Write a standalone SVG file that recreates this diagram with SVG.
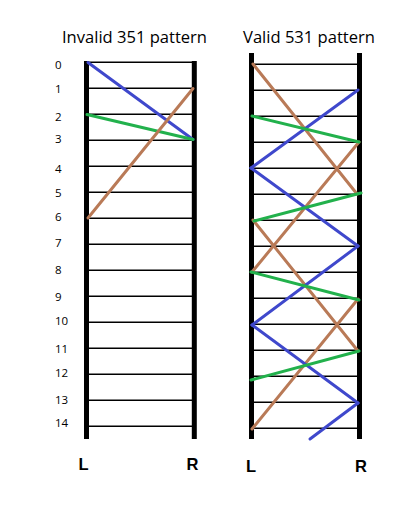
<svg xmlns="http://www.w3.org/2000/svg" width="418" height="512" viewBox="0 0 418 512">
<style>
.rail{stroke:#000;stroke-width:5;fill:none}
.rung{stroke:#000;stroke-width:1.4;fill:none}
.blue{stroke:#3F48CC;stroke-width:3;fill:none;stroke-linecap:round}
.brown{stroke:#B97A57;stroke-width:3;fill:none;stroke-linecap:round}
.green{stroke:#22B14C;stroke-width:3;fill:none;stroke-linecap:round}
.title{font-family:"Open Sans","Liberation Sans",sans-serif;font-size:16px;fill:#000}
.num{font-family:"Open Sans","Liberation Sans",sans-serif;font-size:11.5px;fill:#000}
.lr{font-family:"Liberation Sans",Arial,sans-serif;font-size:16.5px;font-weight:bold;fill:#000;text-anchor:middle}
</style>
<rect width="418" height="512" fill="#fff"/>
<g id="titles">
<text class="title" x="62" y="43" textLength="145" lengthAdjust="spacingAndGlyphs">Invalid 351 pattern</text>
<text class="title" x="243" y="43" textLength="132" lengthAdjust="spacingAndGlyphs">Valid 531 pattern</text>
</g>
<g id="row-labels">
<text class="num" x="55" y="69">0</text>
<text class="num" x="55" y="93">1</text>
<text class="num" x="55" y="121">2</text>
<text class="num" x="55" y="143">3</text>
<text class="num" x="55" y="173">4</text>
<text class="num" x="55" y="196.5">5</text>
<text class="num" x="55" y="221">6</text>
<text class="num" x="55" y="247">7</text>
<text class="num" x="55" y="273.5">8</text>
<text class="num" x="55" y="301">9</text>
<text class="num" x="55" y="325">10</text>
<text class="num" x="55" y="352.5">11</text>
<text class="num" x="55" y="377">12</text>
<text class="num" x="55" y="403.5">13</text>
<text class="num" x="55" y="427">14</text>
</g>
<g id="invalid-ladder">
<line class="rail" x1="86.5" y1="61" x2="86.5" y2="439"/>
<line class="rail" x1="194.3" y1="61" x2="194.3" y2="439"/>
<g id="invalid-rungs">
<line class="rung" x1="89" y1="62.3" x2="192" y2="62.3"/>
<line class="rung" x1="89" y1="88.3" x2="192" y2="88.3"/>
<line class="rung" x1="89" y1="114.3" x2="192" y2="114.3"/>
<line class="rung" x1="89" y1="140.3" x2="192" y2="140.3"/>
<line class="rung" x1="89" y1="166.3" x2="192" y2="166.3"/>
<line class="rung" x1="89" y1="192.3" x2="192" y2="192.3"/>
<line class="rung" x1="89" y1="218.3" x2="192" y2="218.3"/>
<line class="rung" x1="89" y1="244.3" x2="192" y2="244.3"/>
<line class="rung" x1="89" y1="270.3" x2="192" y2="270.3"/>
<line class="rung" x1="89" y1="296.3" x2="192" y2="296.3"/>
<line class="rung" x1="89" y1="322.3" x2="192" y2="322.3"/>
<line class="rung" x1="89" y1="348.3" x2="192" y2="348.3"/>
<line class="rung" x1="89" y1="374.3" x2="192" y2="374.3"/>
<line class="rung" x1="89" y1="400.3" x2="192" y2="400.3"/>
<line class="rung" x1="89" y1="426.3" x2="192" y2="426.3"/>
</g>
<text class="lr" x="83.5" y="470">L</text>
<text class="lr" x="192.5" y="470">R</text>
</g>
<g id="valid-ladder">
<line class="rail" x1="251.5" y1="53" x2="251.5" y2="439"/>
<line class="rail" x1="359.5" y1="53" x2="359.5" y2="439"/>
<g id="valid-rungs">
<line class="rung" x1="254" y1="64.3" x2="357" y2="64.3"/>
<line class="rung" x1="254" y1="90.3" x2="357" y2="90.3"/>
<line class="rung" x1="254" y1="116.3" x2="357" y2="116.3"/>
<line class="rung" x1="254" y1="142.3" x2="357" y2="142.3"/>
<line class="rung" x1="254" y1="168.3" x2="357" y2="168.3"/>
<line class="rung" x1="254" y1="194.3" x2="357" y2="194.3"/>
<line class="rung" x1="254" y1="220.3" x2="357" y2="220.3"/>
<line class="rung" x1="254" y1="246.3" x2="357" y2="246.3"/>
<line class="rung" x1="254" y1="272.3" x2="357" y2="272.3"/>
<line class="rung" x1="254" y1="298.3" x2="357" y2="298.3"/>
<line class="rung" x1="254" y1="324.3" x2="357" y2="324.3"/>
<line class="rung" x1="254" y1="350.3" x2="357" y2="350.3"/>
<line class="rung" x1="254" y1="376.3" x2="357" y2="376.3"/>
<line class="rung" x1="254" y1="402.3" x2="357" y2="402.3"/>
<line class="rung" x1="254" y1="428.3" x2="357" y2="428.3"/>
</g>
<text class="lr" x="251" y="472">L</text>
<text class="lr" x="361" y="472">R</text>
</g>
<g id="connectors">
<g id="invalid-connectors">
<line class="blue" x1="88" y1="62.5" x2="193" y2="139.5"/>
<line class="green" x1="87" y1="114.5" x2="193" y2="139.5"/>
<line class="brown" x1="88" y1="218" x2="193" y2="88.5"/>
</g>
<g id="valid-connectors">
<line class="brown" x1="253" y1="64" x2="357" y2="194"/>
<line class="brown" x1="359" y1="142" x2="252" y2="272"/>
<line class="brown" x1="253" y1="220" x2="358" y2="351"/>
<line class="brown" x1="358" y1="299" x2="252" y2="429"/>
<line class="blue" x1="358" y1="90" x2="251" y2="168"/>
<line class="blue" x1="251" y1="168" x2="358" y2="246"/>
<line class="blue" x1="358" y1="246" x2="252" y2="325"/>
<line class="blue" x1="252" y1="325" x2="358" y2="403"/>
<line class="blue" x1="358" y1="403" x2="310" y2="439"/>
<line class="green" x1="252" y1="116" x2="359" y2="142"/>
<line class="green" x1="254" y1="221" x2="361" y2="193"/>
<line class="green" x1="251" y1="272" x2="359" y2="300"/>
<line class="green" x1="251" y1="380" x2="359" y2="351"/>
</g>
</g>
</svg>
